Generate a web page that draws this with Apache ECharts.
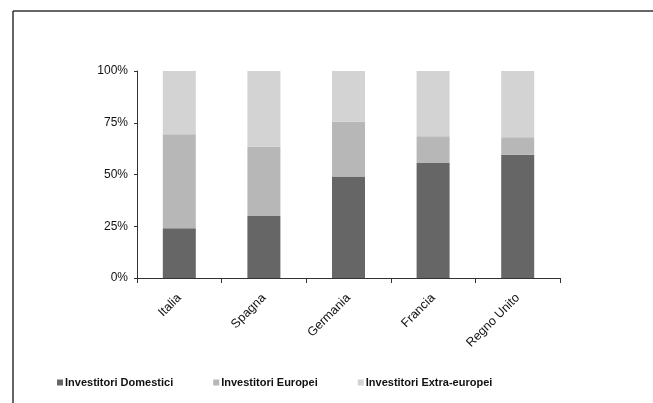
<!DOCTYPE html>
<html>
<head>
<meta charset="utf-8">
<script src="https://cdn.jsdelivr.net/npm/echarts@6/dist/echarts.min.js"></script>
<style>
  html, body { margin: 0; padding: 0; background: #fff; }
  #chart { width: 653px; height: 403px; }
</style>
</head>
<body>
<div id="chart"></div>
<script>
// categories and shares (%)
const countries = ['Italia', 'Spagna', 'Germania', 'Francia', 'Regno Unito'];
const domestici = [24, 30, 49, 55.5, 59.5];
const europei = [45.5, 33.5, 26.5, 13, 8.5];
const extraEuropei = [30.5, 36.5, 24.5, 31.5, 32];
const yTicks = [0, 25, 50, 75, 100];

const chart = echarts.init(document.getElementById('chart'));

const font = 'Arial, "Liberation Sans", sans-serif';

const option = {
    animation: false,
    grid: { left: 137, right: 93, top: 71, bottom: 125 },
    graphic: [ // scanned frame round the chart
        { type: 'line', shape: { x1: 13, y1: 11, x2: 653, y2: 11 }, style: { stroke: '#333', lineWidth: 1.5 } },
        { type: 'line', shape: { x1: 13, y1: 11, x2: 13, y2: 403 }, style: { stroke: '#333', lineWidth: 1.5 } }
    ],
    legend: {
        bottom: 10,
        left: 52,
        itemWidth: 6,
        itemHeight: 6,
        itemGap: 40,
        icon: 'rect',
        textStyle: { fontFamily: font, fontSize: 11, fontWeight: 'bold', color: '#111', padding: [0, 0, 0, -3] }
    },
    xAxis: {
        type: 'category',
        data: countries,
        axisLine: { lineStyle: { color: '#333' } },
        axisTick: { show: true, alignWithLabel: false, lineStyle: { color: '#333' } },
        axisLabel: { rotate: 45, fontFamily: font, fontSize: 12.5, color: '#111', margin: 18, interval: 0 }
    },
    yAxis: {
        type: 'value',
        min: 0,
        max: 100,
        interval: 25,
        axisLine: { show: true, lineStyle: { color: '#333' } },
        axisTick: { show: true, length: 3, lineStyle: { color: '#333' } },
        splitLine: { show: false },
        axisLabel: {
            fontFamily: font, fontSize: 12, color: '#111', margin: 9,
            formatter: v => yTicks.includes(v) ? v + '%' : ''
        }
    },
    series: [
        { name: 'Investitori Domestici', type: 'bar', stack: 'tot', data: domestici, barWidth: 33, itemStyle: { color: '#666666' } },
        { name: 'Investitori Europei', type: 'bar', stack: 'tot', data: europei, itemStyle: { color: '#b7b7b7' } },
        { name: 'Investitori Extra-europei', type: 'bar', stack: 'tot', data: extraEuropei, itemStyle: { color: '#d3d3d3' } }
    ]
};

chart.setOption(option);
</script>
</body>
</html>
